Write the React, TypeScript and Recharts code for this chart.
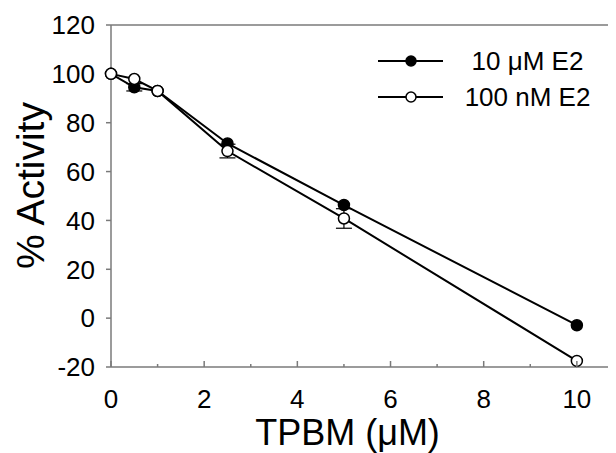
import React from 'react'
import { LineChart, Line, XAxis, YAxis, ErrorBar, ReferenceLine, Legend, Label } from 'recharts'

const doses = [0, 0.5, 1, 2.5, 5, 10]
const e2High = [100, 94.5, 93, 71.5, 46.3, -2.9]
const e2HighErr = [0, 1.5, 0, 0, 0, 0]
const e2Low = [100, 97.9, 93, 68.4, 40.8, -17.5]
const e2LowErr = [0, 0, 0, 2.8, 4, 0]

const xTicks = [0, 1, 2, 3, 4, 5, 6, 7, 8, 9, 10]
const yTicks = [-20, 0, 20, 40, 60, 80, 100, 120]

const series = [
  { key: 'high', err: 'highErr', name: '10 \u03bcM E2', fill: '#000' },
  { key: 'low', err: 'lowErr', name: '100 nM E2', fill: '#fff' },
]

const data = doses.map((d, i) => ({
  dose: d,
  high: e2High[i],
  highErr: e2HighErr[i],
  low: e2Low[i],
  lowErr: e2LowErr[i],
}))

const FONT = '"Liberation Sans", Arial, sans-serif'
const AXIS = '#7a7a7a'

function XTick({ x, y, payload }: any) {
  const v = payload.value
  const major = v % 2 === 0
  return (
    <g>
      <line x1={x} x2={x} y1={y} y2={y - (major ? 6 : 3)} stroke={AXIS} strokeWidth={1.5} />
      {major && (
        <text x={x} y={y + 41} textAnchor="middle" fontSize={26} fontFamily={FONT} fill="#000">
          {v}
        </text>
      )}
    </g>
  )
}

function LegendBox() {
  return (
    <div style={{ fontFamily: FONT, fontSize: 26, color: '#000' }}>
      {series.map((s) => (
        <div key={s.key} style={{ display: 'flex', alignItems: 'center', height: 36 }}>
          <svg width={65} height={20}>
            <line x1={0} x2={65} y1={10} y2={10} stroke="#000" strokeWidth={2} />
            <circle cx={33} cy={10} r={5} fill={s.fill} stroke="#000" strokeWidth={1.5} />
          </svg>
          <span style={{ width: 169, textAlign: 'center' }}>{s.name}</span>
        </div>
      ))}
    </div>
  )
}

export default function App() {
  return (
    <LineChart width={608} height={445} data={data} margin={{ top: 17, right: 0, bottom: 0, left: 0 }}>
      <XAxis
        dataKey="dose"
        type="number"
        domain={[0, 10.84]}
        ticks={xTicks}
        interval={0}
        height={86}
        tickSize={0}
        tickMargin={0}
        tickLine={false}
        tick={<XTick />}
        stroke={AXIS}
        strokeWidth={1.5}
      >
        <Label
          content={() => (
            <text x={339.5} y={437} textAnchor="middle" fontSize={36} fontFamily={FONT} fill="#000">
              {'TPBM (\u03bcM)'}
            </text>
          )}
        />
      </XAxis>
      <YAxis
        type="number"
        domain={[-20, 120]}
        ticks={yTicks}
        interval={0}
        width={103}
        tickSize={5}
        tickMargin={11}
        stroke={AXIS}
        strokeWidth={1.5}
        tick={{ fill: '#000', fontSize: 26, fontFamily: FONT }}
      >
        <Label
          content={() => (
            <text
              x={22}
              y={177.5}
              transform="rotate(-90, 22, 177.5)"
              textAnchor="middle"
              dominantBaseline="central"
              fontSize={39}
              fontFamily={FONT}
              fill="#000"
            >
              % Activity
            </text>
          )}
        />
      </YAxis>
      <ReferenceLine y={120} stroke={AXIS} strokeWidth={1.5} />
      <Legend
        layout="vertical"
        align="center"
        verticalAlign="middle"
        wrapperStyle={{ position: 'absolute', left: 370, top: 35, width: 240 }}
        content={() => <LegendBox />}
      />
      {series.map((s) => (
        <Line
          key={s.key}
          dataKey={s.key}
          name={s.name}
          type="linear"
          stroke="#000"
          strokeWidth={2}
          dot={{ r: 5.5, fill: s.fill, stroke: '#000', strokeWidth: 1.5 }}
          activeDot={false}
          isAnimationActive={false}
        >
          <ErrorBar dataKey={s.err} width={8} stroke="#000" strokeWidth={1.2} direction="y" isAnimationActive={false} />
        </Line>
      ))}
    </LineChart>
  )
}
